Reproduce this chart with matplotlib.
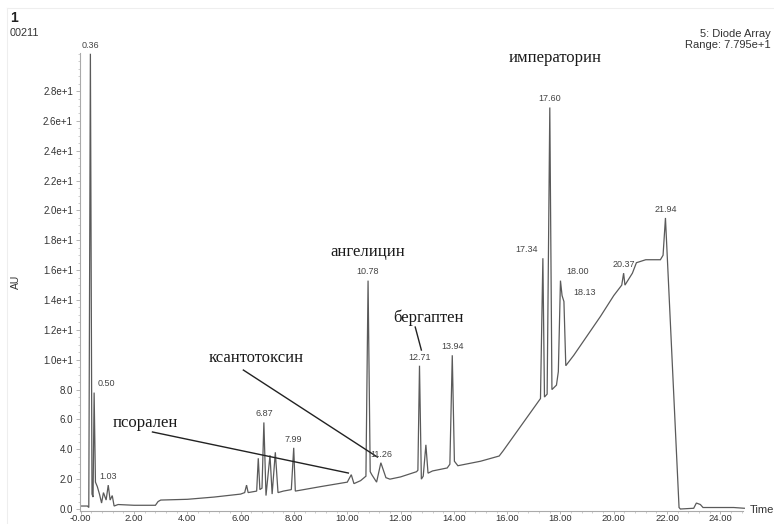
import matplotlib
matplotlib.use("Agg")
import matplotlib.pyplot as plt
from matplotlib.ticker import MultipleLocator, FuncFormatter

# ---- data ----
time = [0.00, 0.25, 0.30, 0.36, 0.42, 0.46, 0.50, 0.55, 0.62, 0.70, 0.78, 0.85, 0.95,
        1.03, 1.10, 1.18, 1.25, 1.40, 2.00, 2.80, 2.90, 3.00, 4.00, 5.00, 6.00, 6.15,
        6.22, 6.28, 6.60, 6.66, 6.72, 6.80, 6.87, 6.95, 7.10, 7.18, 7.30, 7.40, 7.60,
        7.90, 7.99, 8.05, 9.00, 10.00, 10.15, 10.25, 10.50, 10.70, 10.78, 10.86, 10.92,
        11.10, 11.26, 11.45, 11.60, 12.00, 12.60, 12.65, 12.71, 12.78, 12.85, 12.95,
        13.03, 13.20, 13.75, 13.85, 13.94, 14.02, 14.15, 15.00, 15.70, 15.85, 17.25,
        17.34, 17.40, 17.50, 17.60, 17.68, 17.85, 17.92, 18.00, 18.06, 18.13, 18.20,
        18.50, 19.00, 19.50, 20.00, 20.30, 20.37, 20.42, 20.70, 20.85, 21.20, 21.75,
        21.85, 21.94, 22.45, 22.50, 23.00, 23.10, 23.25, 23.35, 24.50, 24.90]
au = [0.20, 0.20, 0.10, 30.5, 1.00, 0.80, 7.80, 1.80, 1.50, 1.00, 0.40, 1.10, 0.60,
      1.60, 0.60, 0.90, 0.20, 0.30, 0.25, 0.25, 0.50, 0.60, 0.65, 0.80, 1.00, 1.10,
      1.60, 1.10, 1.20, 3.40, 1.30, 1.40, 5.80, 0.90, 3.60, 1.00, 3.80, 1.10, 1.20,
      1.30, 4.10, 1.20, 1.50, 1.80, 2.30, 1.70, 1.90, 2.20, 15.3, 2.50, 2.30,
      1.80, 3.10, 2.10, 2.00, 2.15, 2.50, 2.60, 9.60, 2.00, 2.20, 4.30,
      2.40, 2.55, 2.75, 3.00, 10.3, 3.20, 2.90, 3.20, 3.55, 3.90, 7.40,
      16.8, 7.50, 7.70, 26.9, 8.00, 8.30, 9.20, 15.3, 14.3, 13.9, 9.60,
      10.3, 11.6, 12.9, 14.3, 15.0, 15.8, 15.0, 15.8, 16.5, 16.7, 16.7,
      17.0, 19.5, 0.10, 0.00, 0.05, 0.40, 0.30, 0.10, 0.10, 0.05]

peak_times = [0.36, 0.50, 1.03, 6.87, 7.99, 10.78, 11.26, 12.71, 13.94,
              17.34, 17.60, 18.00, 18.13, 20.37, 21.94]
peak_heights = [30.5, 7.8, 1.6, 5.8, 4.1, 15.3, 3.1, 9.6, 10.3,
                16.8, 26.9, 15.3, 13.9, 15.8, 19.5]
peak_labels = ["0.36", "0.50", "1.03", "6.87", "7.99", "10.78", "11.26", "12.71", "13.94",
               "17.34", "17.60", "18.00", "18.13", "20.37", "21.94"]

compounds = ["псорален", "ксантотоксин", "ангелицин", "бергаптен", "императорин"]

y_ticks = [0, 2, 4, 6, 8, 10, 12, 14, 16, 18, 20, 22, 24, 26, 28]
x_ticks = [0, 2, 4, 6, 8, 10, 12, 14, 16, 18, 20, 22, 24]

# ---- layout / style ----
label_dx = {"0.50": 9, "17.34": -12, "18.00": 12, "18.13": 15}
compound_pos = {
    "псорален": (2.42, 5.76, (2.69, 5.16), (10.04, 2.41)),
    "ксантотоксин": (6.58, 10.1, (6.10, 9.31), (11.13, 3.48)),
    "ангелицин": (10.75, 17.2, None, None),
    "бергаптен": (13.04, 12.8, (12.55, 12.19), (12.78, 10.65)),
    "императорин": (17.8, 30.2, None, None),
}

fig = plt.figure(figsize=(7.74, 5.24), dpi=100)
ax = fig.add_axes([80 / 774, 1 - 510.5 / 524, 663 / 774, (510.5 - 53) / 524])
ax.set_xlim(-0.03, 24.85)
ax.set_ylim(-0.1, 30.55)

ax.plot(time, au, color="#5a5a5a", lw=0.9, solid_joinstyle="miter", clip_on=False)

for t, h, lab in zip(peak_times, peak_heights, peak_labels):
    ax.annotate(lab, (t, h), xytext=(label_dx.get(lab, 0), 3), textcoords="offset points",
                ha="center", va="bottom", fontsize=6.5, color="#444444",
                family="Liberation Sans", annotation_clip=False)

for name in compounds:
    x, y, p0, p1 = compound_pos[name]
    ax.text(x, y, name, ha="center", va="center", fontsize=12,
            family="Liberation Serif", color="#1a1a1a", clip_on=False)
    if p0 is not None:
        ax.plot([p0[0], p1[0]], [p0[1], p1[1]], color="#222222", lw=1.0, clip_on=False)

for s in ["top", "right"]:
    ax.spines[s].set_visible(False)
for s in ["left", "bottom"]:
    ax.spines[s].set_color("#aaaaaa")
    ax.spines[s].set_linewidth(0.8)

ax.set_yticks(y_ticks)
ax.yaxis.set_major_formatter(FuncFormatter(
    lambda v, p: f"{v:.1f}" if v < 10 else f"{v / 10:.1f}e+1"))
ax.set_xticks(x_ticks)
ax.xaxis.set_major_formatter(FuncFormatter(
    lambda v, p: "-0.00" if v == 0 else f"{v:.2f}"))
ax.yaxis.set_minor_locator(MultipleLocator(0.5))
ax.xaxis.set_minor_locator(MultipleLocator(0.4))
ax.tick_params(axis="y", which="major", length=3, width=0.6, color="#aaaaaa",
               labelsize=7, labelcolor="#333333", pad=2)
ax.tick_params(axis="x", which="major", length=2, width=0.6, color="#aaaaaa",
               labelsize=6.8, labelcolor="#333333", pad=0.5)
ax.tick_params(axis="both", which="minor", length=1.5, width=0.5, color="#bbbbbb")
for lbl in ax.get_xticklabels() + ax.get_yticklabels():
    lbl.set_family("Liberation Sans")

fig.text(16 / 774, 1 - 282 / 524, "AU", rotation=90, ha="center", va="center",
         fontsize=7.5, color="#333333", family="Liberation Sans")
fig.text(750 / 774, 1 - 510 / 524, "Time", ha="left", va="center",
         fontsize=8, color="#333333", family="Liberation Sans")
fig.text(10 / 774, 1 - 18.5 / 524, "1", ha="left", va="center", fontsize=10,
         fontweight="bold", color="#222222", family="Liberation Sans")
fig.text(10 / 774, 1 - 33 / 524, "00211", ha="left", va="center", fontsize=7.8,
         color="#333333", family="Liberation Sans")
fig.text(771 / 774, 1 - 34 / 524, "5: Diode Array", ha="right", va="center",
         fontsize=8, color="#333333", family="Liberation Sans")
fig.text(771 / 774, 1 - 45 / 524, "Range: 7.795e+1", ha="right", va="center",
         fontsize=8, color="#333333", family="Liberation Sans")

# faint outer frame
fig.add_artist(plt.Line2D([7 / 774, 1], [1 - 8 / 524, 1 - 8 / 524], color="#eeeeee", lw=0.8))
fig.add_artist(plt.Line2D([7 / 774, 7 / 774], [0, 1 - 8 / 524], color="#eeeeee", lw=0.8))

fig.savefig("out.png", dpi=100)
